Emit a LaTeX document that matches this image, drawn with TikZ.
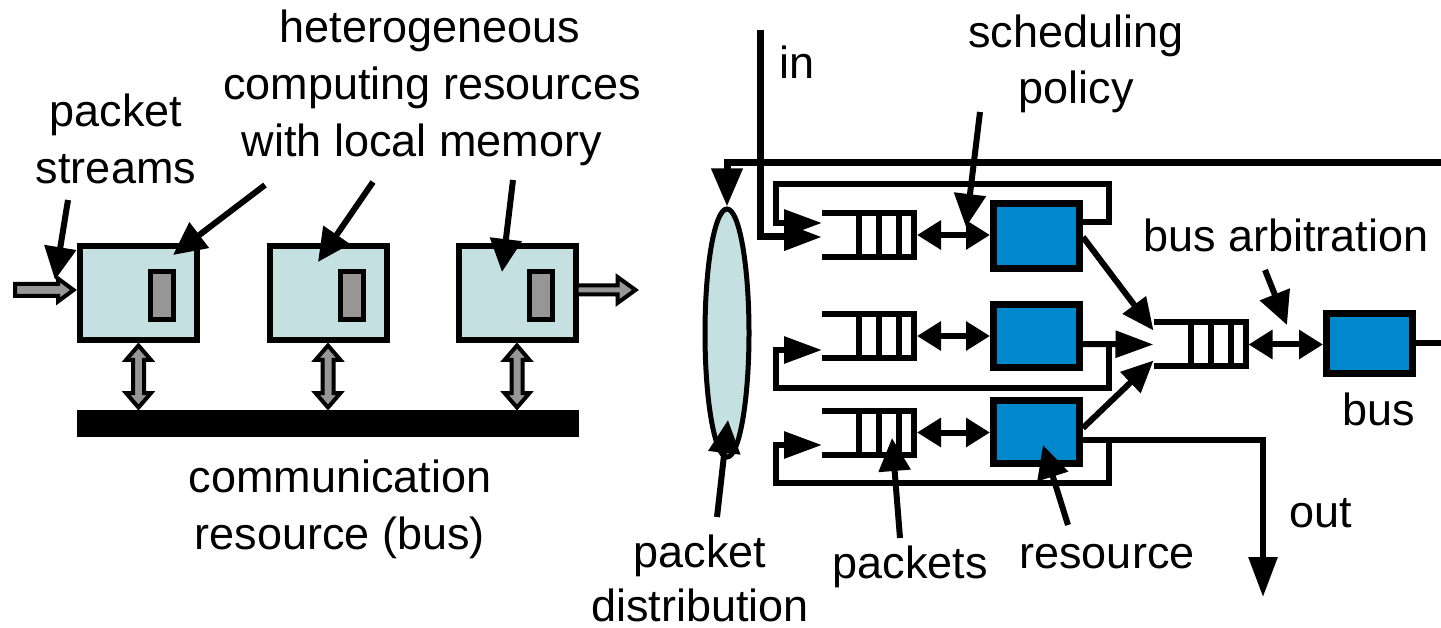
\documentclass[tikz,border=0pt]{standalone}
\usepackage{fontspec}
\setmainfont{Liberation Sans}
\usetikzlibrary{arrows.meta,calc,shapes.geometric}
\pgfdeclarelayer{bg}
\pgfsetlayers{bg,main}
\definecolor{boxcyan}{RGB}{196,224,224}
\definecolor{resblue}{RGB}{0,136,204}
\definecolor{memgray}{RGB}{150,150,150}
\newcommand\drawqueue[1]{%
  \draw[qline] ([yshift=-3pt]#1.north west) -| ([xshift=-3pt,yshift=3pt]#1.south east) -- ([yshift=3pt]#1.south west);
  \foreach \qd in {18,38,58} \draw[qline] ([xshift=-\qd pt]#1.north east) -- ([xshift=-\qd pt]#1.south east);
}
\begin{document}
\begin{tikzpicture}[x=1pt,y=-1pt,
  txt/.style={font=\fontsize{45}{54}\selectfont, inner sep=0pt, anchor=base},
  cbox/.style={draw=black, line width=6pt, fill=boxcyan, minimum width=117pt, minimum height=94pt, inner sep=0pt},
  mem/.style={draw=black, line width=5pt, fill=memgray, minimum width=23pt, minimum height=48pt, inner sep=0pt},
  garrow/.style={draw=black, line width=4pt, fill=memgray, line join=miter},
  rbox/.style={draw=black, line width=7pt, fill=resblue, minimum width=86pt, minimum height=63pt, inner sep=0pt},
  qnode/.style={minimum width=95pt, minimum height=50pt, inner sep=0pt, outer sep=0pt},
  qline/.style={line width=6pt},
  conn/.style={line width=6pt},
  lbl/.style={line width=6pt, -{Triangle[length=33pt,width=31pt]}},
  qin/.style={line width=6pt, -{Triangle[length=38pt,width=26pt]}},
  diag/.style={line width=6pt, -{Triangle[length=32pt,width=28pt]}},
  dbl/.style={line width=6pt, {Triangle[length=24pt,width=28pt]}-{Triangle[length=24pt,width=28pt]}},
]
\fill[white] (0,0) rectangle (1441,628);
\useasboundingbox (0,0) rectangle (1441,628);

% ---------------- left part ----------------
\node[cbox] (c1) at (138.5,293) {};
\node[cbox] (c2) at (328,293) {};
\node[cbox] (c3) at (517,293) {};
\node[mem] (m1) at (162,295.5) {};
\node[mem] (m2) at (351.5,295.5) {};
\node[mem] (m3) at (541,295.5) {};
\node[fill=black, minimum width=502pt, minimum height=27pt, inner sep=0pt] (bar) at (328,423.5) {};

\foreach \cb in {c1,c2,c3}
  \draw[garrow, shift={(\cb.south)}] (0,2.5) -- (12.5,17) -- (5.5,17) -- (5.5,50) -- (12.5,50) -- (0,64.5) -- (-12.5,50) -- (-5.5,50) -- (-5.5,17) -- (-12.5,17) -- cycle;

\draw[garrow, shift={($(c1.west)+(0,-3)$)}] (-62,-6) -- (-19,-6) -- (-19,-11.5) -- (-3.5,0) -- (-19,11.5) -- (-19,6) -- (-62,6) -- cycle;
\draw[garrow, shift={($(c3.east)+(0,-3)$)}] (-2,-4.5) -- (39,-4.5) -- (39,-13) -- (57,0) -- (39,13) -- (39,4.5) -- (-2,4.5) -- cycle;

\node[txt] (t1) at (430,43) {heterogeneous};
\node[txt] (t2) at (432,100) {computing resources};
\node[txt] (t3) at (422,157) {with local memory};
\node[txt] (ps1) at (116,127) {packet};
\node[txt] (ps2) at (116,184) {streams};
\node[txt] (cm1) at (340,492) {communication};
\node[txt] (cm2) at (340,549) {resource (bus)};

\coordinate (a1s) at (68,200);  \coordinate (a1t) at ($(c1.north west)+(-22,37)$);
\coordinate (a2s) at (265,185); \coordinate (a2t) at ($(c1.north east)+(-27,12)$);
\coordinate (a3s) at (373,182); \coordinate (a3t) at ($(c2.north)+(-10,19)$);
\coordinate (a4s) at (513,180); \coordinate (a4t) at ($(c3.north)+(-15,29)$);
\draw[lbl] (a1s) -- (a1t);
\draw[lbl] (a2s) -- (a2t);
\draw[lbl] (a3s) -- (a3t);
\draw[lbl] (a4s) -- (a4t);

% ---------------- right part ----------------
\node[ellipse, draw=black, line width=5pt, fill=boxcyan, minimum width=44pt, minimum height=248pt, inner sep=0pt] (e) at (727,333) {};

\node[qnode] (q1) at (869.5,235) {};
\node[qnode] (q2) at (869.5,336) {};
\node[qnode] (q3) at (869.5,432.5) {};
\node[qnode] (bq) at (1201,344.5) {};
\drawqueue{q1}
\drawqueue{q2}
\drawqueue{q3}
\drawqueue{bq}

\node[rbox, minimum height=65pt] (b1) at (1036.5,236) {};
\node[rbox] (b2) at (1036.5,336) {};
\node[rbox] (b3) at (1036.5,432) {};
\node[rbox, minimum height=60pt] (bus) at (1369.5,343.5) {};

% ellipse -> queues
\coordinate (q1el) at ($(q1.west)+(0,15)$);
\coordinate (q2el) at ($(q2.west)+(0,-14)$);
\coordinate (q3el) at ($(q3.west)+(0,-12.5)$);
\begin{pgfonlayer}{bg}
\draw[qin] (e.center |- q1el) -- (q1el);
\draw[qin] (e.center |- q2el) -- (q2el);
\draw[qin] (e.center |- q3el) -- (q3el);
\end{pgfonlayer}

% top feedback line and input
\coordinate (topR) at (1441,163);
\draw[line width=7pt, -{Triangle[length=38pt,width=30pt]}] (topR) -| (e.north);
\coordinate (inTop) at (760,30);
\coordinate (q1in) at ($(q1.west)+(0,2)$);
\draw[line width=7pt, -{Triangle[length=38pt,width=26pt]}] (inTop) |- (q1in);

% feedback loops
\coordinate (b1o) at ($(b1.east)+(0,-14)$);
\coordinate (q1fb) at ($(q1.west)+(0,-12)$);
\draw[qin] (b1o) -| (1109,184) -| ($(q1fb)+(-46,0)$) -- (q1fb);
\coordinate (b2o) at ($(b2.east)+(0,8)$);
\coordinate (q2fb) at ($(q2.west)+(0,14)$);
\draw[qin] (b2o) -| (1109,388) -| ($(q2fb)+(-46,0)$) -- (q2fb);
\coordinate (b3o) at ($(b3.east)+(0,8)$);
\coordinate (q3fb) at ($(q3.west)+(0,12.5)$);
\draw[qin] (b3o) -| (1109,483) -| ($(q3fb)+(-46,0)$) -- (q3fb);

% out
\coordinate (outEnd) at (1263,597);
\draw[conn, -{Triangle[length=40pt,width=28pt]}] (b3o) -| (outEnd);

% queue <-> resource
\draw[dbl] (q1.east) -- (q1.east -| b1.west);
\draw[dbl] (q2.east) -- (q2.east -| b2.west);
\draw[dbl] (q3.east) -- (q3.east -| b3.west);
\draw[dbl] (bq.east) -- (bq.east -| bus.west);

% resources -> bus queue
\draw[qin] (b2o) -- (bq.west);
\draw[diag] ($(b1.east)+(0,1)$) -- ($(bq.west)+(0,-14)$);
\draw[diag] ($(b3.east)+(0,-4)$) -- ($(bq.west)+(0,16)$);
\coordinate (busR) at (1441,344);
\draw[conn] (bus.east) -- (bus.east -| busR);

% label arrows right
\coordinate (sps) at (980,112);  \coordinate (spt) at (966,227);
\coordinate (bas) at (1265,270); \coordinate (bat) at (1287,325);
\coordinate (pks) at (900,538);  \coordinate (pkt) at ($(q3.south)+(22.5,-19.5)$);
\coordinate (rss) at (1068,525); \coordinate (rst) at ($(b3.center)+(6.5,13)$);
\coordinate (pds) at (717,517);  \coordinate (pdt) at ($(e.south)+(1,-39.5)$);
\draw[lbl] (sps) -- (spt);
\draw[lbl] (bas) -- (bat);
\draw[lbl] (pks) -- (pkt);
\draw[lbl] (rss) -- (rst);
\draw[lbl] (pds) -- (pdt);

% texts right
\node[txt, anchor=base west] (tin) at (779,79) {in};
\node[txt] (s1) at (1076,48) {scheduling};
\node[txt] (s2) at (1076,104) {policy};
\node[txt] (ba) at (1286,252) {bus arbitration};
\node[txt] (tbus) at (1379,425) {bus};
\node[txt] (tout) at (1321,527) {out};
\node[txt] (tres) at (1107,568) {resource};
\node[txt] (tpk) at (910,578) {packets};
\node[txt] (pd1) at (700,567) {packet};
\node[txt] (pd2) at (700,621) {distribution};
\end{tikzpicture}
\end{document}
